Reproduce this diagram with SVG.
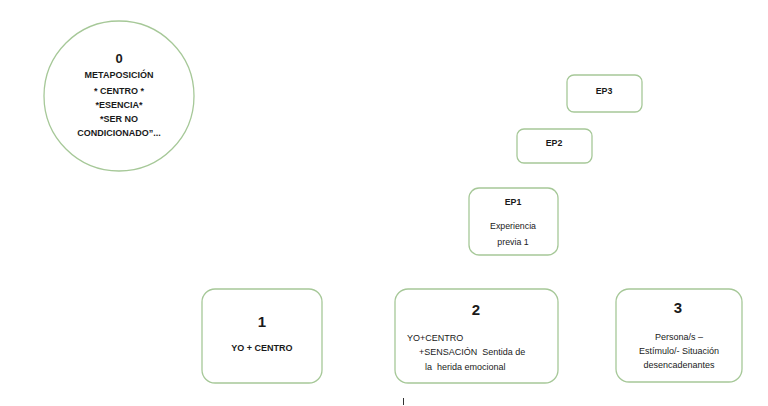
<svg xmlns="http://www.w3.org/2000/svg" width="768" height="406" viewBox="0 0 768 406">
<style>
.n{fill:#fff;stroke:#a6c898;stroke-width:1.3}
text{font-family:"Liberation Sans",Arial,sans-serif;fill:#1a1a1a;text-anchor:middle}
.b{font-weight:bold}
.big{font-size:15px;font-weight:bold}
.s{font-size:9px}
.e{font-size:8.8px}
.l{text-anchor:start}
</style>
<rect width="768" height="406" fill="#fff"/>
<g id="node0">
<circle class="n" cx="119" cy="96" r="75"/>
<text class="b" x="119" y="63" font-size="13">0</text>
<text class="b s" x="119" y="78">METAPOSICIÓN</text>
<text class="b s" x="119" y="94">* CENTRO *</text>
<text class="b s" x="119" y="108">*ESENCIA*</text>
<text class="b s" x="119" y="122">*SER NO</text>
<text class="b s" x="119" y="136">CONDICIONADO”...</text>
</g>
<g id="ep3">
<rect class="n" x="567" y="75" width="75" height="37" rx="7"/>
<text class="b e" x="604" y="94">EP3</text>
</g>
<g id="ep2">
<rect class="n" x="517" y="129" width="75" height="34" rx="7"/>
<text class="b e" x="554" y="146">EP2</text>
</g>
<g id="ep1">
<rect class="n" x="469" y="188" width="89" height="67" rx="10"/>
<text class="b e" x="513" y="205">EP1</text>
<text class="e" x="513" y="229">Experiencia</text>
<text class="e" x="513" y="245">previa 1</text>
</g>
<g id="node1">
<rect class="n" x="202" y="289" width="120" height="94" rx="13"/>
<text class="big" x="262" y="327">1</text>
<text class="b s" x="262" y="351">YO + CENTRO</text>
</g>
<g id="node2">
<rect class="n" x="395" y="289" width="163" height="94" rx="13"/>
<text class="big" x="476" y="315">2</text>
<text class="s l" x="407" y="341">YO+CENTRO</text>
<text class="s l" x="419" y="355" xml:space="preserve">+SENSACIÓN  Sentida de</text>
<text class="s l" x="425" y="370" xml:space="preserve">la  herida emocional</text>
</g>
<g id="node3">
<rect class="n" x="616" y="289" width="126" height="93" rx="13"/>
<text class="big" x="678" y="313">3</text>
<text class="s" x="679" y="340">Persona/s –</text>
<text class="s" x="679" y="354">Estímulo/- Situación</text>
<text class="s" x="679" y="368">desencadenantes</text>
</g>
<g id="connectors">
<line x1="403.5" y1="398" x2="403.5" y2="405" stroke="#333" stroke-width="1"/>
</g>
</svg>
